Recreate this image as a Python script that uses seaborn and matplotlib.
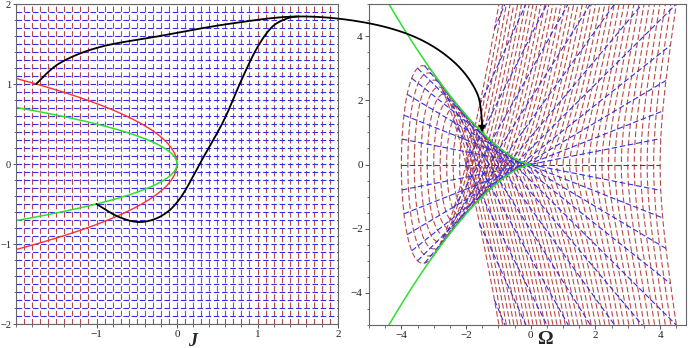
import numpy as np
import pandas as pd
import matplotlib
matplotlib.use("Agg")
import matplotlib.pyplot as plt
import seaborn as sns
from matplotlib.ticker import MultipleLocator

# ---------------- data ----------------
# grid of the J-plane: vertical lines (red) at fixed J, horizontal lines (blue) at fixed lambda
J_LINES = np.linspace(-2.0, 2.0, 41)
LAM_LINES = np.linspace(-2.0, 2.0, 41)
# map J-plane -> Omega-plane  (Omega = A*J + B*lam^2 ,  mu = C*J*lam + D*lam^3)
MAP_A, MAP_B, MAP_C, MAP_D = 2.0, 2.0, 4.0, 8.0
# fold line (green) and its partner line (red) in the J-plane: J = k * lam^2
FOLD_K = -4.0
PARTNER_K = -1.75
# the two marked points (J, lam) joined by the arrows
GREEN_PT = (-1.0, -0.5)
RED_PT = (-1.75, 1.0)
# hand-drawn arrow way-points (image pixels)
ARROW_A = [(60, 63), (100, 47), (160, 36), (228, 24), (297, 16.5),
           (362, 22), (415, 37), (454, 62), (477, 93)]
ARROW_B = [(119, 217), (141, 222), (163, 215), (181, 197), (203, 158),
           (224, 120), (241, 81), (257, 48), (272, 27), (287, 18.5), (297, 16.5)]

RED_GRID = "#b84848"
BLUE_GRID = "#3030e8"
GREEN = "#2ee02e"
RED = "#ff3030"


def fmap(J, lam):
    return MAP_A * J + MAP_B * lam ** 2, MAP_C * J * lam + MAP_D * lam ** 3


# ---------------- build tables ----------------
rowsL = []
for i, j in enumerate(J_LINES):
    for y in (-2.0, 2.0):
        rowsL.append(("J", f"J{i}", j, y))
for i, l in enumerate(LAM_LINES):
    for x in (-2.0, 2.0):
        rowsL.append(("lam", f"L{i}", x, l))
dfL = pd.DataFrame(rowsL, columns=["family", "id", "x", "y"])

rowsR = []
lam_s = np.linspace(-2, 2, 2001)
for i, j in enumerate(J_LINES):
    X, Y = fmap(j, lam_s)
    rowsR.append(pd.DataFrame({"family": "J", "id": f"J{i}", "x": X, "y": Y}))
j_s = np.linspace(-2, 2, 60)
for i, l in enumerate(LAM_LINES):
    X, Y = fmap(j_s, l)
    rowsR.append(pd.DataFrame({"family": "lam", "id": f"L{i}", "x": X, "y": Y}))
dfR = pd.concat(rowsR, ignore_index=True)

# ---------------- figure ----------------
sns.set_theme(style="ticks")
plt.rcParams["font.family"] = ["Liberation Serif", "DejaVu Serif"]
plt.rcParams["axes.unicode_minus"] = True

W, H = 692, 348
fig = plt.figure(figsize=(W / 100, H / 100), dpi=100)
axL = fig.add_axes([16 / W, (H - 324) / H, 322 / W, 320 / H])
axR = fig.add_axes([369 / W, (H - 325) / H, 317 / W, 321 / H])

pal = {"J": RED_GRID, "lam": BLUE_GRID}
dsh = {"J": (5, 2.4), "lam": (5, 2.4)}
for ax, df in ((axL, dfL), (axR, dfR)):
    sns.lineplot(data=df, x="x", y="y", units="id", estimator=None, sort=False,
                 hue="family", hue_order=["J", "lam"], style="family",
                 style_order=["J", "lam"], palette=pal, dashes=dsh,
                 linewidth=0.8, legend=False, ax=ax)

# fold line and partner line in the J-plane
lg = np.linspace(-np.sqrt(-2 / FOLD_K), np.sqrt(-2 / FOLD_K), 200)
lr = np.linspace(-np.sqrt(-2 / PARTNER_K), np.sqrt(-2 / PARTNER_K), 200)
sns.lineplot(x=PARTNER_K * lr ** 2, y=lr, sort=False, estimator=None, color=RED, lw=1.0, ax=axL)
sns.lineplot(x=FOLD_K * lg ** 2, y=lg, sort=False, estimator=None, color=GREEN, lw=1.1, ax=axL)

# caustic in the Omega plane (image of the fold line)
lc = np.linspace(-0.9, 0.9, 400)
cx, cy = fmap(FOLD_K * lc ** 2, lc)
sns.lineplot(x=cx, y=cy, sort=False, estimator=None, color=GREEN, lw=1.1, ax=axR)

axL.set_xlim(-2, 2)
axL.set_ylim(-2, 2)
axR.set_xlim(-5, 4.8)
axR.set_ylim(-5, 5)
axL.set_xticks([-1, 0, 1, 2])
axL.set_yticks([-2, -1, 0, 1, 2])
axL.xaxis.set_minor_locator(MultipleLocator(0.2))
axL.yaxis.set_minor_locator(MultipleLocator(0.2))
axR.set_xticks([-4, -2, 0, 2, 4])
axR.set_yticks([-4, -2, 0, 2, 4])
axR.xaxis.set_minor_locator(MultipleLocator(0.5))
axR.yaxis.set_minor_locator(MultipleLocator(0.5))
for ax in (axL, axR):
    ax.set_xlabel("")
    ax.set_ylabel("")
    ax.tick_params(which="major", direction="out", length=3, width=0.7,
                   color="#555555", labelsize=8, pad=1.5, labelcolor="#222222")
    ax.tick_params(which="minor", direction="out", length=1.8, width=0.6, color="#555555")
    for s in ax.spines.values():
        s.set_color("#666666")
        s.set_linewidth(0.8)
axL.tick_params(axis="y", which="major", length=2.5, pad=1, labelsize=7.5)

fig.text(193 / W, 1 - 341 / H, "J", fontsize=13, fontweight="bold", fontstyle="italic",
         ha="center", va="center")
fig.text(545 / W, 1 - 340 / H, "Ω", fontsize=14, fontweight="bold",
         ha="center", va="center")

# ---------------- arrows (overlay in pixel coordinates) ----------------
ov = fig.add_axes([0, 0, 1, 1])
ov.set_xlim(0, W)
ov.set_ylim(H, 0)
ov.axis("off")
ov.patch.set_alpha(0)


def to_img(ax, pt):
    x, y = ax.transData.transform(pt)
    return (x, H - y)


pA0 = to_img(axL, RED_PT)
pB0 = to_img(axL, GREEN_PT)
tip = to_img(axR, fmap(*RED_PT))


def catmull(pts, n=24):
    pts = np.asarray(pts, float)
    P = np.vstack([pts[0], pts, pts[-1]])
    out = []
    for k in range(1, len(P) - 2):
        p0, p1, p2, p3 = P[k - 1], P[k], P[k + 1], P[k + 2]
        t = np.linspace(0, 1, n, endpoint=False)[:, None]
        out.append(0.5 * ((2 * p1) + (-p0 + p2) * t + (2 * p0 - 5 * p1 + 4 * p2 - p3) * t ** 2
                          + (-p0 + 3 * p1 - 3 * p2 + p3) * t ** 3))
    out.append(P[-2][None, :])
    return np.vstack(out)


tipbase = (tip[0], tip[1] - 8)
cA = catmull([pA0] + ARROW_A + [tipbase])
cB = catmull([pB0] + ARROW_B)
ov.plot(cA[:, 0], cA[:, 1], color="black", lw=1.3, solid_capstyle="round")
ov.plot(cB[:, 0], cB[:, 1], color="black", lw=1.3, solid_capstyle="round")
ov.annotate("", xy=tip, xytext=(tip[0] - 0.3, tip[1] - 9),
            arrowprops=dict(arrowstyle="-|>", color="black", lw=1.2,
                            mutation_scale=9, shrinkA=0, shrinkB=0))

fig.savefig("out.png", dpi=100)
